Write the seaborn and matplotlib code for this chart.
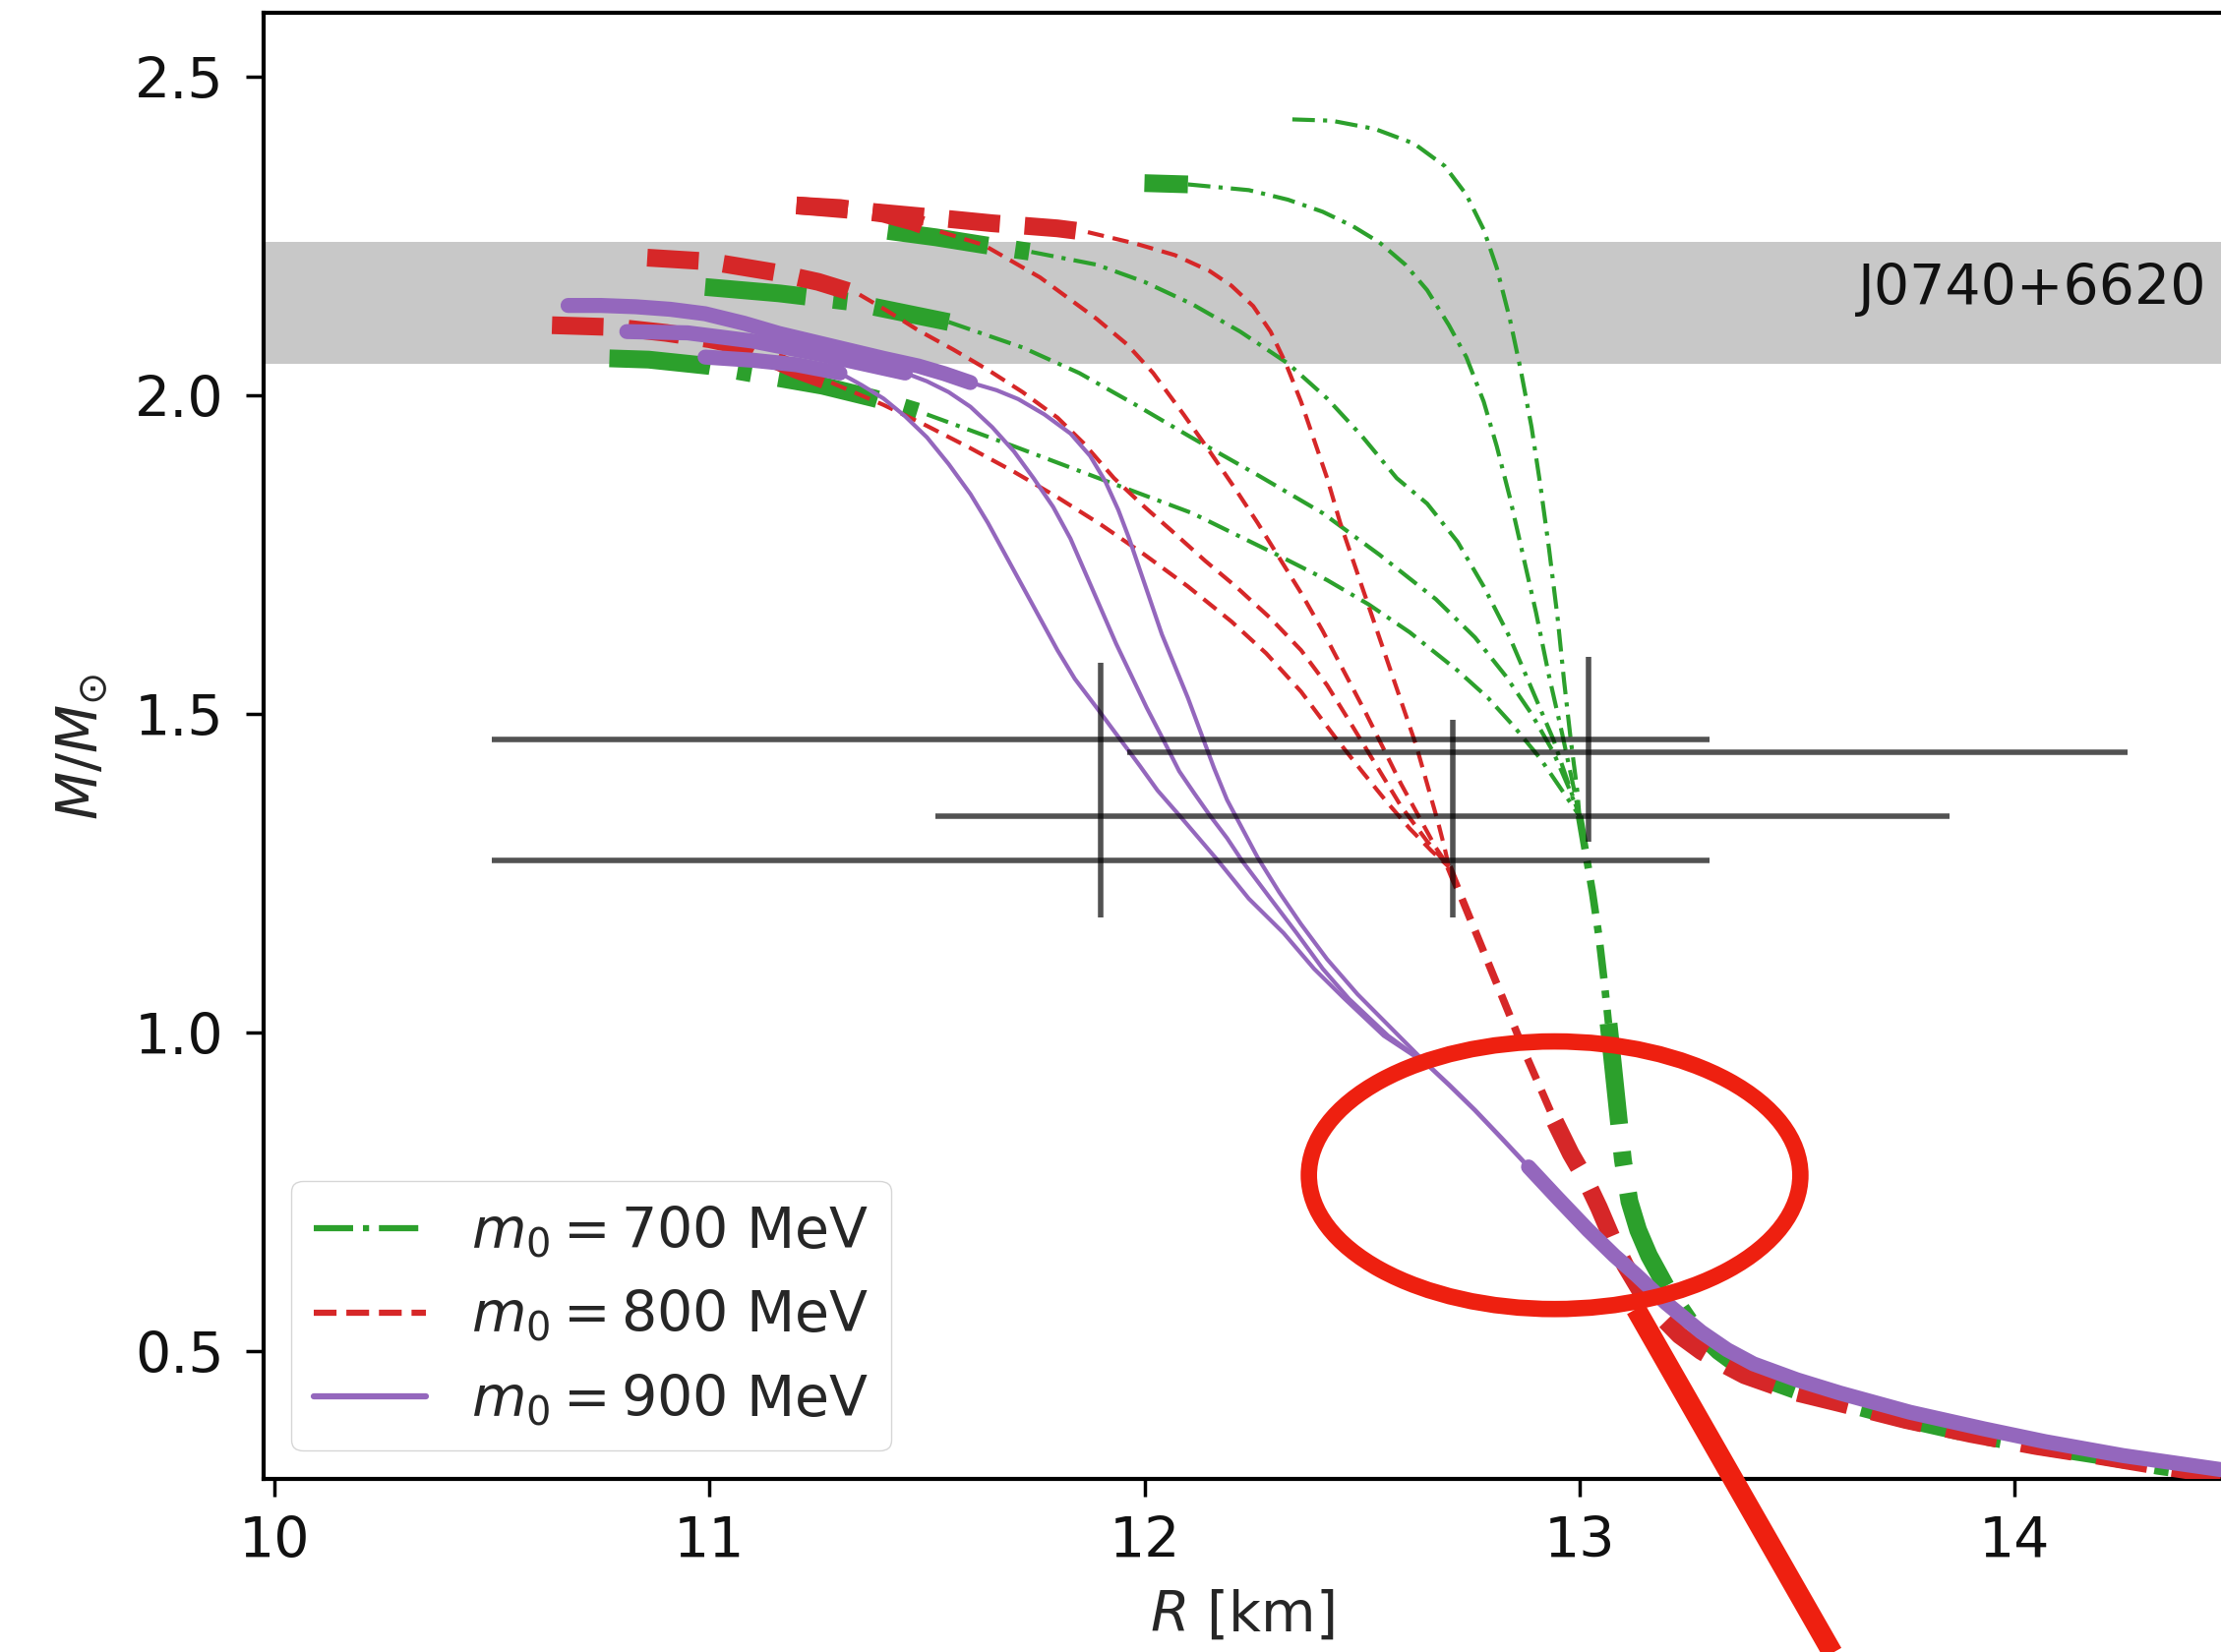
import matplotlib
matplotlib.use("Agg")
import matplotlib.pyplot as plt
import seaborn as sns
from matplotlib.patches import Ellipse
from matplotlib.lines import Line2D

# ---------------- data (R in km, M in solar masses) ----------------
# green family, m0 = 700 MeV : thick top part + thin part down to the junction
G1_thin_R = [12.34, 12.43, 12.53, 12.62, 12.69, 12.74, 12.78, 12.81, 12.84, 12.865, 12.89, 12.91, 12.93, 12.95, 12.965, 12.98, 12.995, 13.0]
G1_thin_M = [2.433, 2.431, 2.418, 2.395, 2.36, 2.315, 2.26, 2.2, 2.12, 2.04, 1.95, 1.86, 1.76, 1.65, 1.55, 1.46, 1.38, 1.34]
G2_top_R = [12.0, 12.1]
G2_top_M = [2.333, 2.331]
G2_thin_R = [12.1, 12.24, 12.33, 12.41, 12.48, 12.54, 12.6, 12.65, 12.7, 12.74, 12.78, 12.81, 12.84, 12.87, 12.9, 12.93, 12.96, 12.985, 13.0]
G2_thin_M = [2.331, 2.322, 2.307, 2.288, 2.265, 2.24, 2.205, 2.165, 2.11, 2.06, 1.99, 1.92, 1.84, 1.75, 1.66, 1.56, 1.47, 1.39, 1.34]
G3_top_R = [11.41, 11.52, 11.63, 11.74]
G3_top_M = [2.258, 2.248, 2.236, 2.225]
G3_thin_R = [11.74, 11.89, 12.0, 12.11, 12.22, 12.33, 12.42, 12.5, 12.58, 12.65, 12.72, 12.78, 12.84, 12.89, 12.94, 12.975, 13.0]
G3_thin_M = [2.225, 2.205, 2.178, 2.143, 2.1, 2.05, 1.995, 1.936, 1.87, 1.83, 1.77, 1.70, 1.62, 1.54, 1.46, 1.39, 1.34]
G4_top_R = [10.99, 11.16, 11.32, 11.55]
G4_top_M = [2.17, 2.16, 2.147, 2.115]
G4_thin_R = [11.55, 11.72, 11.85, 11.98, 12.11, 12.26, 12.41, 12.54, 12.67, 12.76, 12.83, 12.89, 12.94, 12.975, 13.0]
G4_thin_M = [2.115, 2.075, 2.035, 1.985, 1.933, 1.875, 1.815, 1.75, 1.68, 1.62, 1.56, 1.5, 1.44, 1.385, 1.34]
G5_top_R = [10.77, 10.86, 11.0, 11.1, 11.26, 11.38, 11.5]
G5_top_M = [2.058, 2.056, 2.046, 2.034, 2.015, 1.995, 1.97]
G5_thin_R = [11.5, 11.7, 11.91, 12.11, 12.31, 12.42, 12.515, 12.61, 12.72, 12.79, 12.85, 12.91, 12.96, 13.0]
G5_thin_M = [1.97, 1.92, 1.866, 1.815, 1.748, 1.71, 1.672, 1.628, 1.568, 1.525, 1.48, 1.43, 1.38, 1.34]
G_mid_R = [13.0, 13.015, 13.03, 13.045, 13.057, 13.067]
G_mid_M = [1.34, 1.28, 1.22, 1.15, 1.08, 1.014]
G_low_R = [13.067, 13.077, 13.088, 13.1, 13.115, 13.135, 13.16, 13.2, 13.26, 13.32, 13.39, 13.5, 13.6, 13.75, 13.9, 14.05, 14.19, 14.33, 14.475]
G_low_M = [1.014, 0.95, 0.878, 0.8, 0.735, 0.69, 0.65, 0.6, 0.54, 0.5, 0.465, 0.438, 0.42, 0.393, 0.37, 0.352, 0.337, 0.32, 0.306]

# red family, m0 = 800 MeV
R1_top_R = [11.2, 11.34, 11.5, 11.65, 11.8, 11.87]
R1_top_M = [2.298, 2.29, 2.28, 2.27, 2.262, 2.256]
R1_thin_R = [11.87, 11.98, 12.07, 12.15, 12.2, 12.25, 12.29, 12.325, 12.36, 12.39, 12.42, 12.45, 12.49, 12.525, 12.56, 12.595, 12.625, 12.65, 12.675, 12.69, 12.70]
R1_thin_M = [2.256, 2.238, 2.22, 2.195, 2.172, 2.14, 2.1, 2.05, 1.99, 1.93, 1.87, 1.8, 1.72, 1.65, 1.58, 1.51, 1.45, 1.39, 1.33, 1.29, 1.26]
R4_top_R = [11.2, 11.3, 11.4, 11.47, 11.53]
R4_top_M = [2.298, 2.294, 2.285, 2.272, 2.257]
R4_thin_R = [11.53, 11.63, 11.76, 11.89, 11.96, 12.02, 12.09, 12.15, 12.21, 12.26, 12.31, 12.36, 12.41, 12.46, 12.51, 12.55, 12.59, 12.63, 12.67, 12.70]
R4_thin_M = [2.257, 2.236, 2.185, 2.12, 2.08, 2.035, 1.97, 1.912, 1.852, 1.8, 1.745, 1.69, 1.63, 1.565, 1.5, 1.445, 1.39, 1.34, 1.29, 1.26]
R2_top_R = [10.857, 11.0, 11.15, 11.25, 11.345]
R2_top_M = [2.216, 2.21, 2.193, 2.178, 2.158]
R2_thin_R = [11.345, 11.41, 11.48, 11.56, 11.64, 11.72, 11.8, 11.86, 11.93, 12.0, 12.06, 12.14, 12.21, 12.29, 12.36, 12.42, 12.47, 12.51, 12.55, 12.59, 12.65, 12.70]
R2_thin_M = [2.158, 2.132, 2.102, 2.072, 2.04, 2.005, 1.965, 1.925, 1.87, 1.825, 1.789, 1.74, 1.70, 1.65, 1.60, 1.545, 1.49, 1.445, 1.4, 1.355, 1.3, 1.26]
R3_top_R = [10.638, 10.78, 10.9, 11.0, 11.09, 11.15, 11.2, 11.28]
R3_top_M = [2.11, 2.107, 2.098, 2.088, 2.075, 2.055, 2.04, 2.02]
R3_thin_R = [11.28, 11.4, 11.5, 11.6, 11.7, 11.8, 11.9, 12.0, 12.1, 12.2, 12.28, 12.36, 12.44, 12.5, 12.557, 12.61, 12.66, 12.70]
R3_thin_M = [2.02, 1.985, 1.952, 1.917, 1.88, 1.84, 1.797, 1.75, 1.7, 1.645, 1.595, 1.535, 1.462, 1.41, 1.362, 1.32, 1.285, 1.26]
R_mid_R = [12.70, 12.73, 12.76, 12.79, 12.82, 12.85, 12.88, 12.914, 12.944]
R_mid_M = [1.26, 1.21, 1.16, 1.11, 1.06, 1.01, 0.96, 0.907, 0.86]
R_low_R = [12.944, 12.98, 13.013, 13.045, 13.075, 13.105, 13.14, 13.18, 13.23, 13.28, 13.33, 13.38, 13.48, 13.6, 13.75, 13.9, 14.05, 14.19, 14.33, 14.475]
R_low_M = [0.86, 0.81, 0.771, 0.725, 0.677, 0.635, 0.595, 0.56, 0.525, 0.5, 0.48, 0.462, 0.438, 0.418, 0.392, 0.37, 0.351, 0.336, 0.32, 0.305]

# purple family, m0 = 900 MeV
P1_top_R = [10.675, 10.75, 10.83, 10.91, 10.99, 11.08, 11.16, 11.24, 11.32, 11.4, 11.48, 11.54, 11.60]
P1_top_M = [2.141, 2.141, 2.139, 2.135, 2.128, 2.113, 2.097, 2.084, 2.071, 2.058, 2.046, 2.034, 2.02]
P1_thin_R = [11.60, 11.66, 11.71, 11.77, 11.83, 11.875, 11.91, 11.94, 11.965, 11.99, 12.015, 12.04, 12.07, 12.1, 12.13, 12.16, 12.19, 12.225, 12.26, 12.31, 12.36, 12.42, 12.49, 12.57, 12.65]
P1_thin_M = [2.02, 2.008, 1.994, 1.97, 1.94, 1.905, 1.865, 1.82, 1.775, 1.725, 1.675, 1.625, 1.575, 1.525, 1.47, 1.415, 1.365, 1.32, 1.275, 1.22, 1.17, 1.115, 1.06, 1.005, 0.95]
P2_top_R = [10.81, 10.95, 11.1, 11.25, 11.45]
P2_top_M = [2.10, 2.098, 2.085, 2.065, 2.035]
P2_thin_R = [11.45, 11.5, 11.55, 11.6, 11.65, 11.7, 11.745, 11.79, 11.83, 11.865, 11.9, 11.935, 11.97, 12.005, 12.04, 12.08, 12.115, 12.15, 12.19, 12.225, 12.29, 12.35, 12.41, 12.47, 12.56, 12.65]
P2_thin_M = [2.035, 2.022, 2.005, 1.982, 1.95, 1.912, 1.87, 1.825, 1.775, 1.72, 1.665, 1.61, 1.56, 1.51, 1.464, 1.41, 1.375, 1.341, 1.305, 1.269, 1.21, 1.156, 1.1, 1.053, 0.995, 0.95]
P3_top_R = [10.99, 11.1, 11.2, 11.3]
P3_top_M = [2.06, 2.055, 2.048, 2.035]
P3_thin_R = [11.3, 11.35, 11.40, 11.45, 11.50, 11.55, 11.6, 11.64, 11.68, 11.72, 11.76, 11.8, 11.84, 11.89, 11.94, 11.99, 12.03, 12.08, 12.125, 12.17, 12.24, 12.32, 12.39, 12.46, 12.55, 12.65]
P3_thin_M = [2.035, 2.016, 1.995, 1.967, 1.934, 1.892, 1.845, 1.8, 1.75, 1.7, 1.65, 1.6, 1.555, 1.51, 1.464, 1.418, 1.38, 1.341, 1.305, 1.269, 1.21, 1.156, 1.1, 1.053, 0.995, 0.95]
P_mid_R = [12.65, 12.7, 12.76, 12.82, 12.883]
P_mid_M = [0.95, 0.918, 0.878, 0.835, 0.789]
P_low_R = [12.883, 12.95, 13.02, 13.08, 13.13, 13.2, 13.28, 13.34, 13.4, 13.5, 13.6, 13.76, 13.93, 14.07, 14.25, 14.475]
P_low_M = [0.789, 0.74, 0.69, 0.65, 0.62, 0.575, 0.53, 0.502, 0.48, 0.455, 0.434, 0.404, 0.378, 0.358, 0.336, 0.314]

# observational constraints
obs_R = [11.9, 11.9, 12.71, 13.02]
obs_M = [1.46, 1.27, 1.34, 1.44]
obs_R_lo = [1.4, 1.4, 1.19, 1.06]
obs_R_hi = [1.4, 1.4, 1.14, 1.24]
obs_M_lo = [0.10, 0.09, 0.16, 0.14]
obs_M_hi = [0.12, 0.09, 0.15, 0.15]
band_M = [2.05, 2.24]
band_label = "J0740+6620"

legend_labels = [r"$m_0 = 700$ MeV", r"$m_0 = 800$ MeV", r"$m_0 = 900$ MeV"]

# ---------------- styling ----------------
sns.set_theme(style="ticks")
plt.rcParams["font.family"] = ["DejaVu Sans"]
plt.rcParams["mathtext.fontset"] = "dejavusans"
FS = 41

GREEN, RED, PURPLE = "#2ca02c", "#d62728", "#9467bd"
THIN, MED, THICK, PTHICK = 3.0, 5.5, 13.0, 11.0

DD_THIN = (0, (5.5, 2.0, 1.0, 2.0))
DD_MED = (0, (4.5, 1.6, 1.0, 1.6))
DD_THICK = (0, (5.7, 1.55, 0.8, 1.55))
DA_THIN = (0, (4.0, 2.2))
DA_MED = (0, (3.0, 1.6))
DA_THICK = (0, (2.9, 1.4))

W, H = 2258, 1681
fig = plt.figure(figsize=(W / 100, H / 100), dpi=100)
ax = fig.add_axes([268 / W, 1 - 1504.6 / H, 1 - 268 / W, (1504.6 - 14.2) / H])
ax.set_xlim(9.975, 14.475)
ax.set_ylim(0.3, 2.6)


def seg(R, M, color, lw, ls, z):
    sns.lineplot(x=R, y=M, sort=False, estimator=None, color=color,
                 linewidth=lw, linestyle=ls, ax=ax, zorder=z)


ax.axhspan(band_M[0], band_M[1], color="#c8c8c8", lw=0, zorder=0)

# green (dash-dot)
for R, M in [(G1_thin_R, G1_thin_M), (G2_thin_R, G2_thin_M), (G3_thin_R, G3_thin_M),
             (G4_thin_R, G4_thin_M), (G5_thin_R, G5_thin_M)]:
    seg(R, M, GREEN, THIN, DD_THIN, 2)
for R, M in [(G2_top_R, G2_top_M), (G3_top_R, G3_top_M), (G4_top_R, G4_top_M), (G5_top_R, G5_top_M)]:
    seg(R, M, GREEN, THICK, DD_THICK, 2)
seg(G_mid_R, G_mid_M, GREEN, MED, DD_MED, 2)
seg(G_low_R, G_low_M, GREEN, THICK, DD_THICK, 2)

# red (dashed)
for R, M in [(R1_thin_R, R1_thin_M), (R4_thin_R, R4_thin_M), (R2_thin_R, R2_thin_M), (R3_thin_R, R3_thin_M)]:
    seg(R, M, RED, THIN, DA_THIN, 3)
for R, M in [(R1_top_R, R1_top_M), (R4_top_R, R4_top_M), (R2_top_R, R2_top_M), (R3_top_R, R3_top_M)]:
    seg(R, M, RED, THICK, DA_THICK, 3)
seg(R_mid_R, R_mid_M, RED, MED, DA_MED, 3)
seg(R_low_R, R_low_M, RED, THICK, DA_THICK, 3)

# purple (solid)
for R, M in [(P1_thin_R, P1_thin_M), (P2_thin_R, P2_thin_M), (P3_thin_R, P3_thin_M)]:
    seg(R, M, PURPLE, THIN, "-", 4)
for R, M in [(P1_top_R, P1_top_M), (P2_top_R, P2_top_M), (P3_top_R, P3_top_M)]:
    seg(R, M, PURPLE, PTHICK, "-", 4)
seg(P_mid_R, P_mid_M, PURPLE, 3.4, "-", 4)
seg(P_low_R, P_low_M, PURPLE, PTHICK, "-", 4)

# error bars
ax.errorbar(obs_R, obs_M, xerr=[obs_R_lo, obs_R_hi], yerr=[obs_M_lo, obs_M_hi],
            fmt="none", ecolor="black", alpha=0.68, elinewidth=4.0, capsize=0, zorder=5)

ax.text(13.64, 2.144, band_label, fontsize=FS, va="baseline", ha="left", color="#111111", zorder=6)

# hand-drawn style annotation
ax.add_patch(Ellipse((12.943, 0.776), 1.13, 0.42, fill=False, edgecolor="#ee2010",
                     lw=12, zorder=8))
ax.add_line(Line2D([13.13, 13.587], [0.566, 0.02], color="#ee2010", lw=15,
                   zorder=8, clip_on=False, solid_capstyle="butt"))

# axes
ax.set_xticks([10, 11, 12, 13, 14])
ax.set_yticks([0.5, 1.0, 1.5, 2.0, 2.5])
ax.tick_params(axis="both", labelsize=FS, length=13, width=2.5, direction="out",
               color="black", labelcolor="#111111")
ax.tick_params(axis="y", pad=16)
ax.tick_params(axis="x", pad=13)
for s in ["left", "bottom", "top"]:
    ax.spines[s].set_linewidth(3.0)
    ax.spines[s].set_color("black")
ax.spines["right"].set_visible(False)

ax.set_xlabel(r"$R$ [km]", fontsize=FS, labelpad=14)
ax.set_ylabel(r"$M/M_{\odot}$", fontsize=FS, labelpad=18)

handles = [Line2D([], [], color=GREEN, lw=4.5, ls="-."),
           Line2D([], [], color=RED, lw=4.5, ls="--"),
           Line2D([], [], color=PURPLE, lw=4.5, ls="-")]
leg = ax.legend(handles, legend_labels, loc="lower left", fontsize=FS, frameon=True,
                fancybox=True, framealpha=0.8, edgecolor="#cccccc")
leg.set_zorder(7)

fig.savefig("out.png", dpi=100)
